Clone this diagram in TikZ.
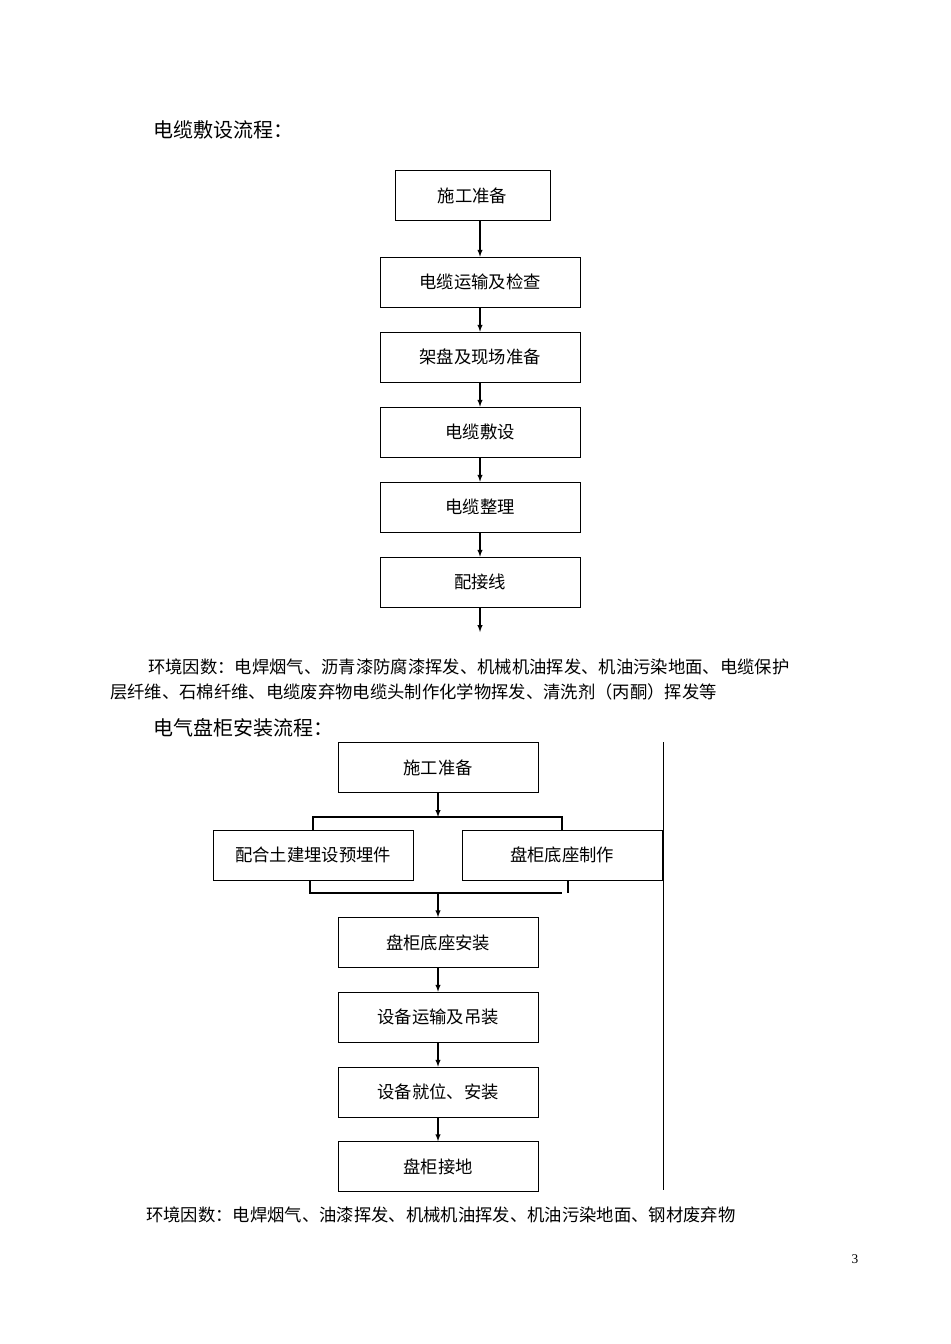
\documentclass[tikz,border=0pt]{standalone}
\usepackage{fontspec}
\setmainfont{Liberation Serif}
\newfontfamily\cjk{Noto Sans CJK SC}
\usetikzlibrary{positioning}
\tikzset{
  stage/.style={draw=black, minimum height=37.5pt, inner sep=0pt, font=\cjk\fontsize{13}{15}\selectfont},
  flow/.style={-latex, thick},
  txt/.style={anchor=west, inner sep=0pt, font=\cjk\fontsize{13}{15}\selectfont},
}
\begin{document}
\begin{tikzpicture}[x=0.75pt,y=-0.75pt]
\useasboundingbox (0,0) rectangle (950,1344);
\node[txt, font=\cjk\fontsize{15}{18}\selectfont] (t1) at (153,130) {电缆敷设流程：};
\node[stage, minimum width=116pt] (a1) at (472.5,195.5) {施工准备};
\node[stage, minimum width=150pt] (a2) at (480,282) {电缆运输及检查};
\node[stage, minimum width=150pt] (a3) at (480,357) {架盘及现场准备};
\node[stage, minimum width=150pt] (a4) at (480,432) {电缆敷设};
\node[stage, minimum width=150pt] (a5) at (480,507) {电缆整理};
\node[stage, minimum width=150pt] (a6) at (480,582) {配接线};
\coordinate (a7) at (480,632);
\draw[flow] (a1.south -| a2.north) -- (a2.north);
\draw[flow] (a2) -- (a3);
\draw[flow] (a3) -- (a4);
\draw[flow] (a4) -- (a5);
\draw[flow] (a5) -- (a6);
\draw[flow] (a6) -- (a7);
\node[txt] (e1) at (148,667) {环境因数：电焊烟气、沥青漆防腐漆挥发、机械机油挥发、机油污染地面、电缆保护};
\node[txt] (e2) at (110,692) {层纤维、石棉纤维、电缆废弃物电缆头制作化学物挥发、清洗剂（丙酮）挥发等};
\node[txt, font=\cjk\fontsize{15}{18}\selectfont] (t2) at (153,728) {电气盘柜安装流程：};
\node[stage, minimum width=150pt] (b1) at (438,767.5) {施工准备};
\node[stage, minimum width=150pt] (b2) at (313,855) {配合土建埋设预埋件};
\node[stage, minimum width=150pt] (b3) at (562,855) {盘柜底座制作};
\node[stage, minimum width=150pt] (b4) at (438,942.5) {盘柜底座安装};
\node[stage, minimum width=150pt] (b5) at (438,1017) {设备运输及吊装};
\node[stage, minimum width=150pt] (b6) at (438,1092) {设备就位、安装};
\node[stage, minimum width=150pt] (b7) at (438,1166.5) {盘柜接地};
\coordinate (s1) at (438,817);
\coordinate (s2) at (438,893);
\draw[flow] (b1) -- (s1);
\draw[thick] (b2.north) |- (s1) -| (b3.north);
\draw[thick] (310,880) -- (310,893) -- (562,893);
\draw[thick] (568,880) -- (568,893);
\draw[flow] (s2) -- (b4);
\draw[flow] (b4) -- (b5);
\draw[flow] (b5) -- (b6);
\draw[flow] (b6) -- (b7);
\draw (663,742) -- (663,1190);
\node[txt] (e3) at (146,1215) {环境因数：电焊烟气、油漆挥发、机械机油挥发、机油污染地面、钢材废弃物};
\node[anchor=center, font=\fontsize{10}{12}\selectfont] (pg) at (855,1259) {3};
\end{tikzpicture}
\end{document}
